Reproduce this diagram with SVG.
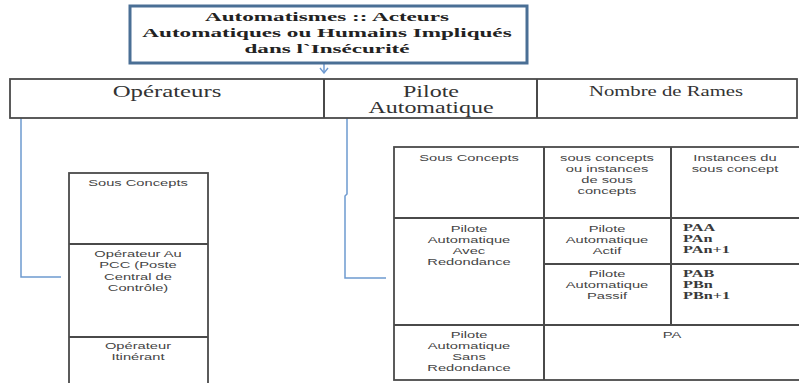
<svg xmlns="http://www.w3.org/2000/svg" width="799" height="383" viewBox="0 0 799 383">
  <defs>
    <style>
      .title { font-family: "Liberation Serif", "DejaVu Serif", serif; font-weight: bold; font-size: 12.5px; fill: #222; text-anchor: middle; }
      .head { font-family: "Liberation Serif", "DejaVu Serif", serif; font-size: 16px; fill: #333; text-anchor: middle; }
      .head.small { font-size: 14px; }
      .cell { font-family: "Liberation Sans", Arial, sans-serif; font-size: 9.8px; fill: #444; text-anchor: middle; }
      .inst { font-family: "Liberation Serif", "DejaVu Serif", serif; font-size: 10.5px; font-weight: bold; fill: #3a3a3a; }
      .grid { fill: #fff; stroke: #4a4a4a; stroke-width: 1.8; }
      .line { stroke: #4a4a4a; stroke-width: 2; fill: none; }
      .conn { stroke: #6e9ad0; stroke-width: 1.5; fill: none; }
    </style>
    <marker id="arrowOpen" viewBox="0 0 10 10" refX="9" refY="5" markerWidth="10" markerHeight="10" markerUnits="userSpaceOnUse" orient="auto">
      <path d="M4,1 L9,5 L4,9" fill="none" stroke="#6e9ad0" stroke-width="1.4"/>
    </marker>
  </defs>
  <rect width="799" height="383" fill="#fff"/>

  <!-- connectors -->
  <g id="connectors">
    <path class="conn" d="M324,64 L324,73" marker-end="url(#arrowOpen)"/>
    <path class="conn" d="M21,111 L21,277 L61,277"/>
    <path class="conn" d="M347,112 L347,194 L345,196 L345,278 L386,278"/>
  </g>

  <!-- title (text is set in a horizontally widened face) -->
  <g id="title">
    <rect x="130" y="6" width="397" height="57" fill="#fff" stroke="#4a6f95" stroke-width="3"/>
    <text class="title" transform="matrix(1.85 0 0 1 327 21)">Automatismes :: Acteurs</text>
    <text class="title" transform="matrix(1.85 0 0 1 327 37)">Automatiques ou Humains Impliqués</text>
    <text class="title" transform="matrix(1.85 0 0 1 327 53)">dans l`Insécurité</text>
  </g>

  <!-- category row -->
  <g id="categories">
    <rect class="grid" x="10" y="79" width="787" height="39"/>
    <line class="line" x1="324" y1="79" x2="324" y2="118"/>
    <line class="line" x1="537" y1="79" x2="537" y2="118"/>
    <text class="head" transform="matrix(1.55 0 0 1 167 97)">Opérateurs</text>
    <text class="head" transform="matrix(1.5 0 0 1 431 97)">Pilote</text>
    <text class="head" transform="matrix(1.5 0 0 1 431 112.5)">Automatique</text>
    <text class="head small" transform="matrix(1.48 0 0 1 666 96)">Nombre de Rames</text>
  </g>

  <!-- operators table -->
  <g id="operateurs">
    <rect class="grid" x="69" y="173" width="139" height="215"/>
    <line class="line" x1="69" y1="244" x2="208" y2="244"/>
    <line class="line" x1="69" y1="337" x2="208" y2="337"/>
    <text class="cell" transform="matrix(1.5 0 0 1 138 186)">Sous Concepts</text>
    <text class="cell" transform="matrix(1.5 0 0 1 138 257)">Opérateur Au</text>
    <text class="cell" transform="matrix(1.5 0 0 1 138 268.3)">PCC (Poste</text>
    <text class="cell" transform="matrix(1.5 0 0 1 138 279.6)">Central de</text>
    <text class="cell" transform="matrix(1.5 0 0 1 138 290.9)">Contrôle)</text>
    <text class="cell" transform="matrix(1.5 0 0 1 138 349)">Opérateur</text>
    <text class="cell" transform="matrix(1.5 0 0 1 138 360.3)">Itinérant</text>
  </g>

  <!-- autopilot table -->
  <g id="pilote">
    <rect class="grid" x="394" y="147" width="420" height="233"/>
    <line class="line" x1="394" y1="218" x2="799" y2="218"/>
    <line class="line" x1="544" y1="264" x2="799" y2="264"/>
    <line class="line" x1="394" y1="325" x2="799" y2="325"/>
    <line class="line" x1="544" y1="147" x2="544" y2="380"/>
    <line class="line" x1="671" y1="147" x2="671" y2="325"/>

    <text class="cell" transform="matrix(1.5 0 0 1 469 161)">Sous Concepts</text>
    <text class="cell" transform="matrix(1.5 0 0 1 607 161)">sous concepts</text>
    <text class="cell" transform="matrix(1.5 0 0 1 607 172)">ou instances</text>
    <text class="cell" transform="matrix(1.5 0 0 1 607 183)">de sous</text>
    <text class="cell" transform="matrix(1.5 0 0 1 607 194)">concepts</text>
    <text class="cell" transform="matrix(1.5 0 0 1 735 161)">Instances du</text>
    <text class="cell" transform="matrix(1.5 0 0 1 735 172)">sous concept</text>

    <text class="cell" transform="matrix(1.5 0 0 1 469 232)">Pilote</text>
    <text class="cell" transform="matrix(1.5 0 0 1 469 243)">Automatique</text>
    <text class="cell" transform="matrix(1.5 0 0 1 469 254)">Avec</text>
    <text class="cell" transform="matrix(1.5 0 0 1 469 265)">Redondance</text>

    <text class="cell" transform="matrix(1.5 0 0 1 607 232)">Pilote</text>
    <text class="cell" transform="matrix(1.5 0 0 1 607 243)">Automatique</text>
    <text class="cell" transform="matrix(1.5 0 0 1 607 254)">Actif</text>
    <text class="inst" transform="matrix(1.55 0 0 1 683 231)">PAA</text>
    <text class="inst" transform="matrix(1.55 0 0 1 683 242)">PAn</text>
    <text class="inst" transform="matrix(1.55 0 0 1 683 253)">PAn+1</text>

    <text class="cell" transform="matrix(1.5 0 0 1 607 277)">Pilote</text>
    <text class="cell" transform="matrix(1.5 0 0 1 607 288)">Automatique</text>
    <text class="cell" transform="matrix(1.5 0 0 1 607 299)">Passif</text>
    <text class="inst" transform="matrix(1.55 0 0 1 683 277)">PAB</text>
    <text class="inst" transform="matrix(1.55 0 0 1 683 288)">PBn</text>
    <text class="inst" transform="matrix(1.55 0 0 1 683 299)">PBn+1</text>

    <text class="cell" transform="matrix(1.5 0 0 1 469 338)">Pilote</text>
    <text class="cell" transform="matrix(1.5 0 0 1 469 349)">Automatique</text>
    <text class="cell" transform="matrix(1.5 0 0 1 469 360)">Sans</text>
    <text class="cell" transform="matrix(1.5 0 0 1 469 371)">Redondance</text>
    <text class="cell" transform="matrix(1.5 0 0 1 672 338)">PA</text>
  </g>
</svg>
